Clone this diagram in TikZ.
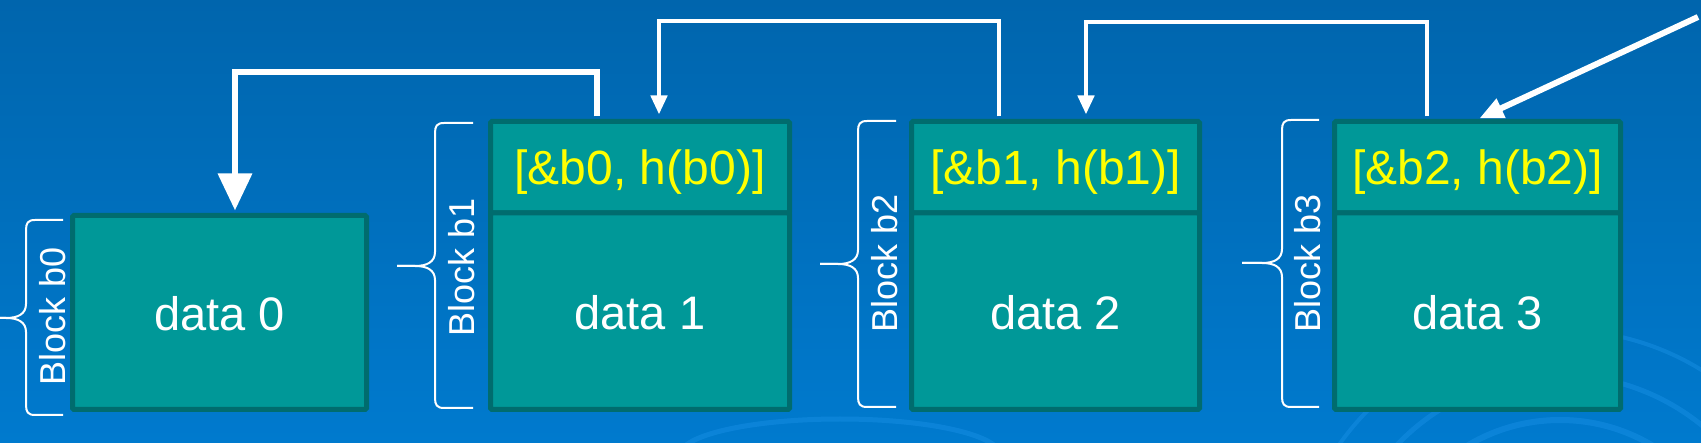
\documentclass[tikz,border=0pt]{standalone}
\usepackage{fontspec}
\setmainfont{Liberation Sans}
\usetikzlibrary{arrows.meta,calc}
\definecolor{bgtop}{RGB}{0,101,173}
\definecolor{bgbot}{RGB}{0,122,206}
\definecolor{tealfill}{RGB}{0,152,152}
\definecolor{tealedge}{RGB}{0,108,110}
\definecolor{hdryellow}{RGB}{255,255,0}
\definecolor{swirlblue}{RGB}{25,145,230}
\newcommand\mybrace[6]{% xend, xv, xtip, ytop, ytip, ybot (pixels, y downward)
  \draw[brc] (#1,-#4) -- (#2+9,-#4) .. controls (#2+2,-#4) and (#2,-#4-3) .. (#2,-#4-10)
    -- (#2,-#5+14) .. controls (#2,-#5+4) and (#2-8,-#5) .. (#2-20,-#5) -- (#3,-#5);
  \draw[brc] (#3,-#5) -- (#2-20,-#5) .. controls (#2-8,-#5) and (#2,-#5-4) .. (#2,-#5-14)
    -- (#2,-#6+10) .. controls (#2,-#6+3) and (#2+2,-#6) .. (#2+9,-#6) -- (#1,-#6);
}
\begin{document}
\begin{tikzpicture}[x=1pt,y=1pt,
  cell/.style={draw=tealedge, fill=tealfill, line width=5pt, rounded corners=1.5pt,
    inner sep=0pt},
  datacell/.style={cell, text=white, text height=36pt, text depth=0pt,
    font=\fontsize{47}{50}\selectfont},
  hdrcell/.style={cell, text=hdryellow, text height=34pt, text depth=0pt,
    font=\fontsize{48}{50}\selectfont},
  blk/.style={rotate=90, anchor=base, text=white, inner sep=0pt,
    font=\fontsize{36}{40}\selectfont},
  brc/.style={draw=white, line width=2pt},
  biglink/.style={draw=white, line width=6.5pt, shorten <=2.5pt, shorten >=2.5pt,
    -{Triangle[width=33pt,length=37pt]}},
  link/.style={draw=white, line width=4.5pt, shorten <=2.5pt, shorten >=4.5pt,
    -{Triangle[width=16pt,length=19pt]}},
  diaglink/.style={draw=white, line width=6pt, shorten >=1.5pt,
    -{Triangle[width=20pt,length=24pt]}},
  swirl/.style={draw=swirlblue, opacity=0.45}
]
\useasboundingbox (0,0) rectangle (1701,-443);
\shade[top color=bgtop, bottom color=bgbot] (0,0) rectangle (1701,-443);
\begin{scope}
  \clip (0,0) rectangle (1701,-443);
  \draw[swirl, line width=6pt] (1560,-600) circle[radius=180];
  \draw[swirl, line width=5pt] (1560,-600) circle[radius=225];
  \draw[swirl, line width=4pt] (1560,-600) circle[radius=270];
  \draw[swirl, line width=5pt] (840,-455) ellipse[x radius=160, y radius=36];
\end{scope}

% blocks
\node[datacell, minimum width=294pt, minimum height=194pt] (d0) at (219.5,-312.5) {data 0};
\node[hdrcell, minimum width=299pt, minimum height=91.5pt] (h1) at (640,-167.25) {[\&b0, h(b0)]};
\node[datacell, minimum width=299pt, minimum height=196.5pt] (d1) at (640,-311.25) {data 1};
\node[hdrcell, minimum width=288pt, minimum height=91.5pt] (h2) at (1055.5,-167.25) {[\&b1, h(b1)]};
\node[datacell, minimum width=288pt, minimum height=196.5pt] (d2) at (1055.5,-311.25) {data 2};
\node[hdrcell, minimum width=286pt, minimum height=91.5pt] (h3) at (1477.5,-167.25) {[\&b2, h(b2)]};
\node[datacell, minimum width=286pt, minimum height=196.5pt] (d3) at (1477.5,-311.25) {data 3};

% braces and labels
\mybrace{63}{26}{0}{220}{318}{415}
\mybrace{473}{435}{397}{123}{266}{408}
\mybrace{896}{858}{820}{121}{264}{407}
\mybrace{1319}{1282}{1242}{120}{263}{407}
\node[blk] (l0) at (65,-316) {Block b0};
\node[blk] (l1) at (474,-267) {Block b1};
\node[blk] (l2) at (897,-263) {Block b2};
\node[blk] (l3) at (1320,-263) {Block b3};

% links
\coordinate (a1s) at (597,0);
\coordinate (a1t) at (235,-72);
\coordinate (a2s) at (999,0);
\coordinate (a2t) at (659,-21);
\coordinate (a3s) at (1427,0);
\coordinate (a3t) at (1086,-22);
\coordinate (src) at (1698,-17);
\coordinate (a4t) at (1478,0);
\draw[biglink] (h1.north -| a1s) |- (a1t) -- (d0.north -| a1t);
\draw[link] (h2.north -| a2s) |- (a2t) -- (h1.north -| a2t);
\draw[link] (h3.north -| a3s) |- (a3t) -- (h2.north -| a3t);
\draw[diaglink] (src) -- (h3.north -| a4t);
\end{tikzpicture}
\end{document}
